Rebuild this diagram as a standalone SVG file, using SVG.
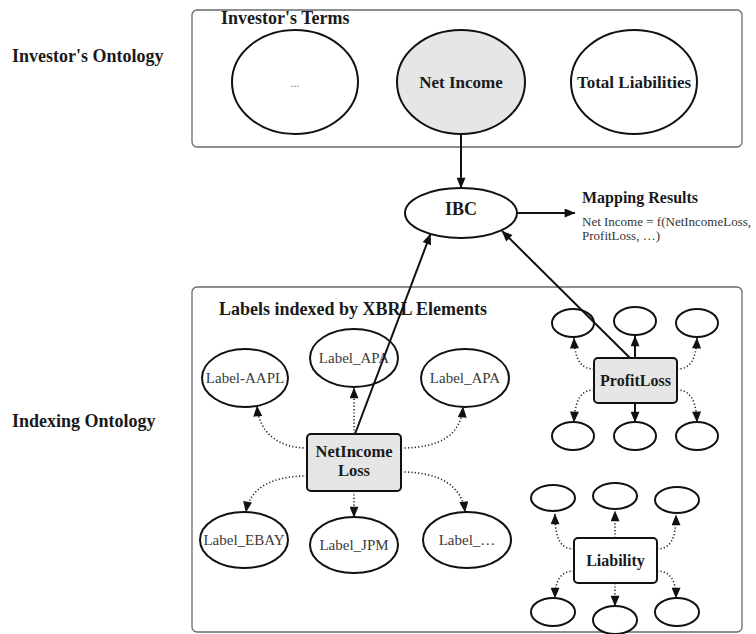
<svg xmlns="http://www.w3.org/2000/svg" width="756" height="634" viewBox="0 0 756 634">
<style>
text{font-family:"Liberation Serif","Times New Roman",serif;fill:#1a1a1a}
.title{font-size:18px;font-weight:bold}
.bold{font-weight:bold;text-anchor:middle}
.lbl{font-size:15px;fill:#3a3a3a;text-anchor:middle}
.panel{fill:#fff;stroke:#6a6a6a;stroke-width:1.3}
.node{fill:#fff;stroke:#111;stroke-width:2}
.gray{fill:#e6e6e6}
.solid{fill:none;stroke:#111;stroke-width:2}
.dot{fill:none;stroke:#222;stroke-width:1.6;stroke-dasharray:1.2 2.2}
</style>
<defs>
<marker id="ah" viewBox="0 0 12 10" refX="11.5" refY="5" markerWidth="12" markerHeight="9" markerUnits="userSpaceOnUse" orient="auto">
<path d="M0,0 L12,5 L0,10 z" fill="#111"/>
</marker>
</defs>
<rect width="756" height="634" fill="#fff"/>

<g id="side-labels">
<text class="title" x="12" y="62">Investor's Ontology</text>
<text class="title" x="12" y="427">Indexing Ontology</text>
</g>

<g id="investors-terms">
<rect class="panel" x="192" y="10" width="550" height="137" rx="5"/>
<text class="title" x="221" y="24">Investor's Terms</text>
</g>
<g id="node-dots">
<ellipse class="node" cx="295" cy="82" rx="63" ry="52"/>
<text x="295" y="87" style="font-size:12px;fill:#888;text-anchor:middle">...</text>
</g>
<g id="node-netincome">
<ellipse class="node gray" cx="461" cy="82" rx="64" ry="52"/>
<text class="bold" x="461" y="88" style="font-size:17px">Net Income</text>
</g>
<g id="node-totalliabilities">
<ellipse class="node" cx="634" cy="82" rx="63" ry="52"/>
<text class="bold" x="634" y="88" style="font-size:17px">Total Liabilities</text>
</g>

<g id="node-ibc">
<ellipse class="node" cx="461" cy="213" rx="56" ry="25"/>
<text class="bold" x="461" y="215" style="font-size:18px">IBC</text>
</g>

<g id="mapping-results">
<text x="582" y="203" style="font-size:16px;font-weight:bold">Mapping Results</text>
<text x="582" y="226" style="font-size:13px;fill:#333">Net Income = f(NetIncomeLoss,</text>
<text x="582" y="240" style="font-size:13px;fill:#333">ProfitLoss, …)</text>
</g>

<g id="labels-panel">
<rect class="panel" x="192" y="287" width="550" height="345" rx="5"/>
<text class="title" x="219" y="315">Labels indexed by XBRL Elements</text>
</g>

<g id="node-netincomeloss">
<rect class="node gray" x="307" y="434" width="94" height="57" rx="4"/>
<text class="bold" x="354" y="457" style="font-size:16.5px">NetIncome</text>
<text class="bold" x="354" y="476" style="font-size:16.5px">Loss</text>
</g>
<g id="node-label-aapl"><ellipse class="node" cx="245" cy="378" rx="43" ry="29"/><text class="lbl" x="245" y="383">Label-AAPL</text></g>
<g id="node-label-apa1"><ellipse class="node" cx="354" cy="358" rx="44" ry="29"/><text class="lbl" x="354" y="363">Label_APA</text></g>
<g id="node-label-apa2"><ellipse class="node" cx="465" cy="378" rx="44" ry="29"/><text class="lbl" x="465" y="383">Label_APA</text></g>
<g id="node-label-ebay"><ellipse class="node" cx="244" cy="540" rx="44" ry="28"/><text class="lbl" x="244" y="545">Label_EBAY</text></g>
<g id="node-label-jpm"><ellipse class="node" cx="354" cy="545" rx="44" ry="28"/><text class="lbl" x="354" y="550">Label_JPM</text></g>
<g id="node-label-more"><ellipse class="node" cx="467" cy="540" rx="44" ry="28"/><text class="lbl" x="467" y="545">Label_…</text></g>

<g id="node-profitloss">
<rect class="node gray" x="594" y="358" width="83" height="45" rx="4"/>
<text class="bold" x="635.5" y="386" style="font-size:16px">ProfitLoss</text>
</g>
<g id="profitloss-children">
<ellipse class="node" cx="573" cy="323" rx="21" ry="14"/>
<ellipse class="node" cx="635" cy="321" rx="21" ry="14"/>
<ellipse class="node" cx="697" cy="323" rx="21" ry="14"/>
<ellipse class="node" cx="573" cy="436" rx="21" ry="14"/>
<ellipse class="node" cx="635" cy="436" rx="21" ry="14"/>
<ellipse class="node" cx="697" cy="436" rx="21" ry="14"/>
</g>

<g id="node-liability">
<rect class="node" x="574" y="538" width="83" height="45" rx="4"/>
<text class="bold" x="615.5" y="566" style="font-size:16px">Liability</text>
</g>
<g id="liability-children">
<ellipse class="node" cx="553" cy="498" rx="22" ry="13"/>
<ellipse class="node" cx="615" cy="496" rx="22" ry="13"/>
<ellipse class="node" cx="677" cy="500" rx="22" ry="13"/>
<ellipse class="node" cx="553" cy="612" rx="22" ry="14"/>
<ellipse class="node" cx="615" cy="620" rx="22" ry="14"/>
<ellipse class="node" cx="677" cy="612" rx="22" ry="14"/>
</g>

<g id="connectors">
<path class="solid" d="M461,134 L461,188" marker-end="url(#ah)"/>
<path class="solid" d="M517,213 L575,213" marker-end="url(#ah)"/>
<path class="solid" d="M355,434 L430.5,234" marker-end="url(#ah)"/>
<path class="solid" d="M630,358 L502,231" marker-end="url(#ah)"/>

<path class="dot" d="M307,448 C280,448 259,434 257,406" marker-end="url(#ah)"/>
<path class="dot" d="M354,434 L354,388" marker-end="url(#ah)"/>
<path class="dot" d="M401,448 C440,448 461,435 463,407" marker-end="url(#ah)"/>
<path class="dot" d="M307,476 C275,476 250,486 246,512" marker-end="url(#ah)"/>
<path class="dot" d="M354,491 L354,517" marker-end="url(#ah)"/>
<path class="dot" d="M401,472 C440,472 462,486 465,512" marker-end="url(#ah)"/>

<path class="dot" d="M594,369 C582,369 575,362 574,338" marker-end="url(#ah)"/>
<path class="solid" d="M635,358 L635,336" marker-end="url(#ah)"/>
<path class="dot" d="M677,369 C689,369 696,362 697,338" marker-end="url(#ah)"/>
<path class="dot" d="M594,390 C582,390 575,398 574,422" marker-end="url(#ah)"/>
<path class="solid" d="M635,403 L635,422" marker-end="url(#ah)"/>
<path class="dot" d="M677,390 C689,390 696,398 697,422" marker-end="url(#ah)"/>

<path class="dot" d="M574,549 C561,549 555,540 555,514" marker-end="url(#ah)"/>
<path class="dot" d="M615,538 L615,511" marker-end="url(#ah)"/>
<path class="dot" d="M657,549 C670,549 676,540 676,515" marker-end="url(#ah)"/>
<path class="dot" d="M574,571 C561,571 555,580 555,598" marker-end="url(#ah)"/>
<path class="dot" d="M615,583 L615,606" marker-end="url(#ah)"/>
<path class="dot" d="M657,571 C670,571 676,580 676,598" marker-end="url(#ah)"/>
</g>
</svg>
